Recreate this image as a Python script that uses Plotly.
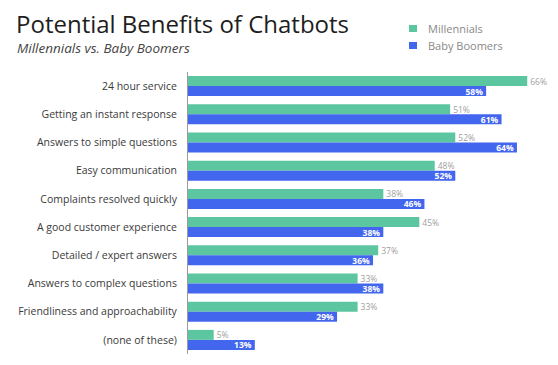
import plotly.graph_objects as go

categories = [
    "24 hour service",
    "Getting an instant response",
    "Answers to simple questions",
    "Easy communication",
    "Complaints resolved quickly",
    "A good customer experience",
    "Detailed / expert answers",
    "Answers to complex questions",
    "Friendliness and approachability",
    "(none of these)",
]
millennials = [66, 51, 52, 48, 38, 45, 37, 33, 33, 5]
boomers = [58, 61, 64, 52, 46, 38, 36, 38, 29, 13]

GREEN = "#5cc6a0"
BLUE = "#4366ee"
FONT = "Open Sans"

# page body has an 8px margin; work in target pixel coords and compensate
OFF = 8
W, H = 558 - OFF, 365 - OFF
PL, PT, PB = 188, 72, 354      # plot area in target pixels
PW, PH = 558 - PL, PB - PT


def px(x):
    return (x - PL) / PW


def py(y):
    return (PB - y) / PH


fig = go.Figure()
fig.add_trace(go.Bar(
    y=categories, x=millennials, orientation="h", name="Millennials",
    marker=dict(color=GREEN, line=dict(width=0)),
    text=[f"{v}%" for v in millennials], textposition="outside",
    textfont=dict(family=FONT, size=8.5, color="#a0a0a0"),
    cliponaxis=False, textangle=0, constraintext="none",
))
fig.add_trace(go.Bar(
    y=categories, x=boomers, orientation="h", name="Baby Boomers",
    marker=dict(color=BLUE, line=dict(width=0)),
    text=[f"<b>{v}%</b>" for v in boomers], textposition="inside",
    insidetextanchor="end",
    textfont=dict(family=FONT, size=8.5, color="white"),
    textangle=0, constraintext="none",
))

fig.update_layout(
    width=W, height=H,
    margin=dict(l=PL - OFF, r=0, t=PT - OFF, b=365 - PB),
    paper_bgcolor="white", plot_bgcolor="white",
    barmode="group", bargap=0.29, bargroupgap=0,
    showlegend=False,
    font=dict(family=FONT, color="#333"),
    xaxis=dict(range=[0, PW / 5.14], visible=False, fixedrange=True),
    yaxis=dict(autorange="reversed", showline=True, linecolor="#9a9a9a",
               linewidth=1, ticks="", showgrid=False,
               tickfont=dict(family=FONT, size=10.5, color="#3a3a3a"),
               ticklabelstandoff=8),
    annotations=[
        dict(text="Potential Benefits of Chatbots", xref="paper", yref="paper",
             x=px(14), y=py(23.5), xanchor="left", yanchor="middle",
             showarrow=False, font=dict(family=FONT, size=24, color="#1e1e1e")),
        dict(text="<i>Millennials vs. Baby Boomers</i>", xref="paper", yref="paper",
             x=px(15), y=py(48), xanchor="left", yanchor="middle",
             showarrow=False, font=dict(family=FONT, size=13.5, color="#444")),
        dict(text="Millennials", xref="paper", yref="paper",
             x=px(426), y=py(28.5), xanchor="left", yanchor="middle",
             showarrow=False, font=dict(family=FONT, size=11, color="#888")),
        dict(text="Baby Boomers", xref="paper", yref="paper",
             x=px(426), y=py(45.5), xanchor="left", yanchor="middle",
             showarrow=False, font=dict(family=FONT, size=11, color="#888")),
    ],
    shapes=[
        dict(type="rect", xref="paper", yref="paper", line=dict(width=0), fillcolor=GREEN,
             x0=px(409), x1=px(417), y0=py(32), y1=py(25)),
        dict(type="rect", xref="paper", yref="paper", line=dict(width=0), fillcolor=BLUE,
             x0=px(409), x1=px(417), y0=py(49), y1=py(42)),
    ],
)

fig.write_html("out.html")
